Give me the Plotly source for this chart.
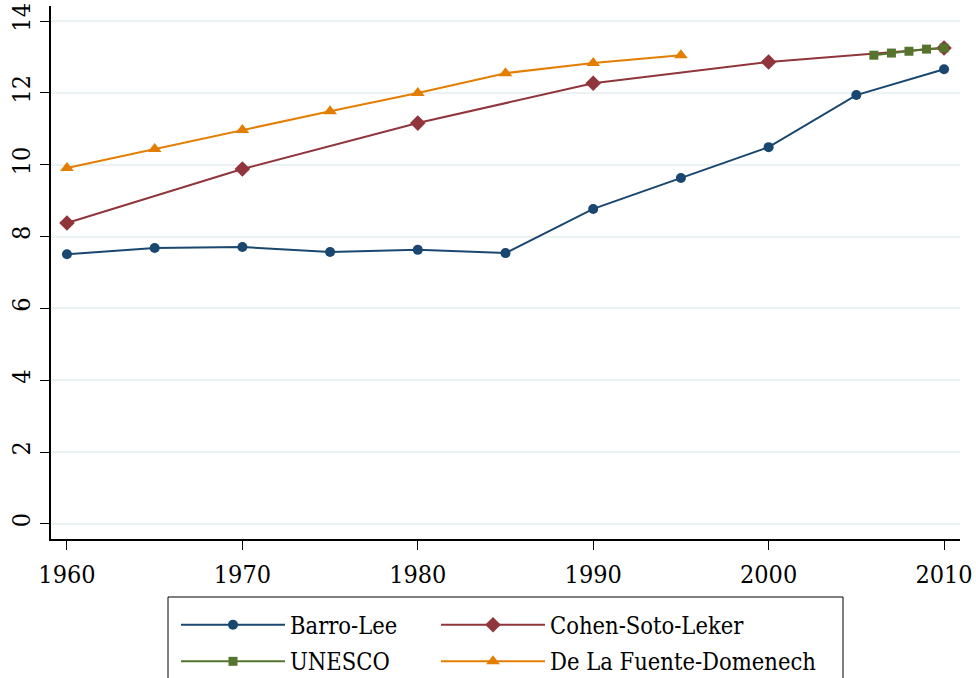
import plotly.graph_objects as go

# Data
years_bl = [1960, 1965, 1970, 1975, 1980, 1985, 1990, 1995, 2000, 2005, 2010]
barro_lee = [7.51, 7.68, 7.71, 7.57, 7.63, 7.54, 8.77, 9.63, 10.49, 11.94, 12.66]

years_csl = [1960, 1970, 1980, 1990, 2000, 2010]
cohen_soto_leker = [8.38, 9.88, 11.16, 12.27, 12.86, 13.25]

years_un = [2006, 2007, 2008, 2009, 2010]
unesco = [13.05, 13.11, 13.16, 13.22, 13.25]

years_dlf = [1960, 1965, 1970, 1975, 1980, 1985, 1990, 1995]
de_la_fuente = [9.91, 10.44, 10.97, 11.49, 12.00, 12.55, 12.83, 13.05]

x_ticks = [1960, 1970, 1980, 1990, 2000, 2010]
y_ticks = [0, 2, 4, 6, 8, 10, 12, 14]

FONT = "DejaVu Serif Condensed, DejaVu Serif, serif"

fig = go.Figure()

def add(xs, ys, name, color, symbol, size, legend, group):
    fig.add_trace(go.Scatter(
        x=xs, y=ys, name=name, mode="lines+markers",
        line=dict(color=color, width=2),
        marker=dict(color=color, symbol=symbol, size=size, line=dict(width=0)),
        legend=legend, legendgroup=group,
    ))

add(years_bl, barro_lee, "Barro-Lee", "#1a476f", "circle", 10, "legend", "a")
add(years_csl, cohen_soto_leker, "Cohen-Soto-Leker", "#90353b", "diamond", 12, "legend2", "b")
add(years_un, unesco, "UNESCO", "#55752f", "square", 9, "legend", "c")
add(years_dlf, de_la_fuente, "De La Fuente-Domenech", "#e37e00", "triangle-up", 12, "legend2", "d")

leg_common = dict(
    orientation="v", xanchor="left", yanchor="top",
    bgcolor="rgba(0,0,0,0)", borderwidth=0,
    font=dict(family=FONT, size=23.5, color="#000000"),
    itemwidth=104, tracegroupgap=3, itemclick=False,
)

# page body margin is removed by post_script, so figure coords == page coords
W, H = 976, 678
L, R, T, B = 51, 16, 6, 139
PW = W - L - R
PH = H - T - B

def px(xpage):
    return (xpage - L) / PW

def py(ypage):
    return (H - B - ypage) / PH

fig.update_layout(
    width=W, height=H,
    margin=dict(l=L, r=R, t=T, b=B, autoexpand=False),
    paper_bgcolor="white", plot_bgcolor="white",
    font=dict(family=FONT, size=23.5, color="#000000"),
    showlegend=True,
    legend=dict(x=px(176), y=py(603), **leg_common),
    legend2=dict(x=px(436), y=py(603), **leg_common),
    xaxis=dict(
        range=[1959.09, 2010.91], tickvals=x_ticks, ticktext=[str(v) for v in x_ticks],
        showgrid=False, zeroline=False, automargin=False,
        showline=True, linecolor="#000000", linewidth=1.5,
        ticks="outside", ticklen=9, tickwidth=1, tickcolor="#000000",
        ticklabelstandoff=3, ticklabeloverflow="allow",
        tickfont=dict(family=FONT, size=25, color="#000000"),
    ),
    yaxis=dict(
        range=[-0.42, 14.42], tickvals=y_ticks, ticktext=[str(v) for v in y_ticks],
        showgrid=True, gridcolor="#EAF2F3", gridwidth=1.5, zeroline=False, automargin=False,
        showline=True, linecolor="#000000", linewidth=1.5,
        ticks="outside", ticklen=9, tickwidth=1, tickcolor="#000000",
        tickangle=-90, ticklabeloverflow="allow",
        tickfont=dict(family=FONT, size=25, color="#000000"),
    ),
    shapes=[dict(
        type="rect", xref="paper", yref="paper",
        x0=px(168), x1=px(843), y0=py(597), y1=py(700),
        line=dict(color="#000000", width=1), fillcolor="rgba(0,0,0,0)", layer="below",
    )],
)

fig.write_html(
    "out.html",
    config={"displayModeBar": False},
    post_script="document.body.style.margin='0';document.body.style.overflow='hidden';",
)
